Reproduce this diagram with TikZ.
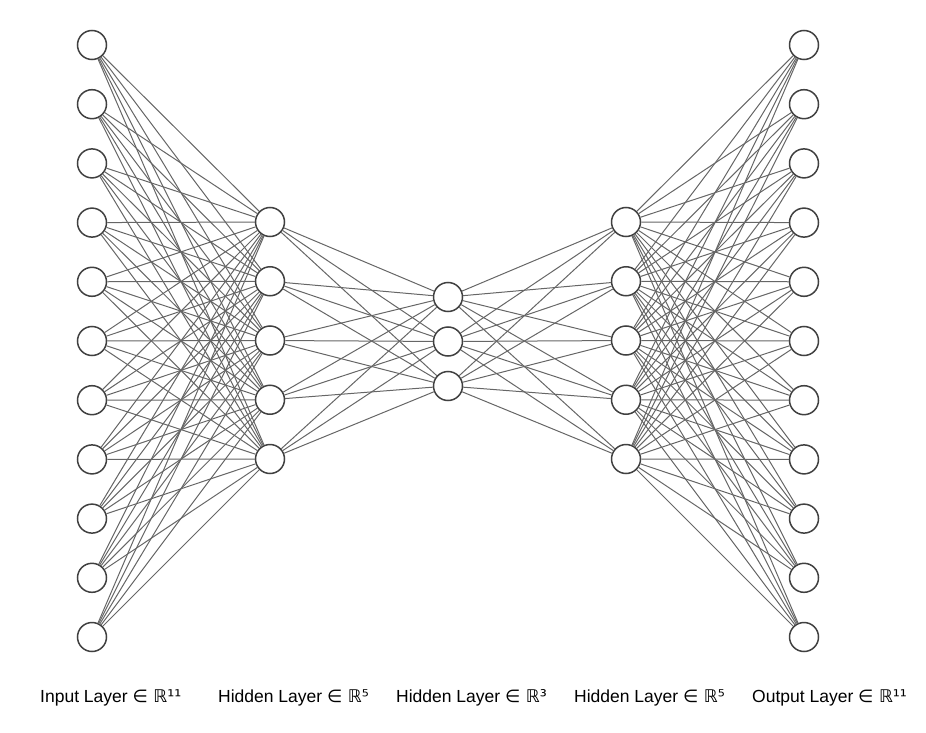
\documentclass[tikz,border=0pt]{standalone}
\usepackage{fontspec}
\setmainfont{Liberation Sans}
\newfontfamily\symfont{DejaVu Sans}
\begin{document}
\begin{tikzpicture}[x=1pt,y=-1pt,
  neuron/.style={circle,draw=black!75,line width=1.5pt,fill=white,minimum size=29pt,inner sep=0pt},
  edge/.style={draw=black!60,line width=1pt},
  lbl/.style={anchor=west,font=\fontsize{17.5}{20}\selectfont,inner sep=0pt}]
\useasboundingbox (0,0) rectangle (926,733);
% nodes
\foreach \i in {1,...,11} {
  \node[neuron] (a\i) at (92,{45+(\i-1)*59.2}) {};
  \node[neuron] (e\i) at (804,{45+(\i-1)*59.2}) {};
}
\foreach \i in {1,...,5} {
  \node[neuron] (b\i) at (270,{222+(\i-1)*59.25}) {};
  \node[neuron] (d\i) at (626,{222+(\i-1)*59.25}) {};
}
\foreach \i in {1,...,3} {
  \node[neuron] (c\i) at (448,{297+(\i-1)*44.5}) {};
}
% edges
\foreach \i in {1,...,11} \foreach \j in {1,...,5} {
  \draw[edge] (a\i) -- (b\j);
  \draw[edge] (d\j) -- (e\i);
}
\foreach \i in {1,...,5} \foreach \j in {1,...,3} {
  \draw[edge] (b\i) -- (c\j);
  \draw[edge] (c\j) -- (d\i);
}
% labels
\node[lbl] (l1) at (40,698) {Input Layer {\symfont∈ ℝ¹¹}};
\node[lbl] (l2) at (218,698) {Hidden Layer {\symfont∈ ℝ⁵}};
\node[lbl] (l3) at (396,698) {Hidden Layer {\symfont∈ ℝ³}};
\node[lbl] (l4) at (574,698) {Hidden Layer {\symfont∈ ℝ⁵}};
\node[lbl] (l5) at (752,698) {Output Layer {\symfont∈ ℝ¹¹}};
\end{tikzpicture}
\end{document}
